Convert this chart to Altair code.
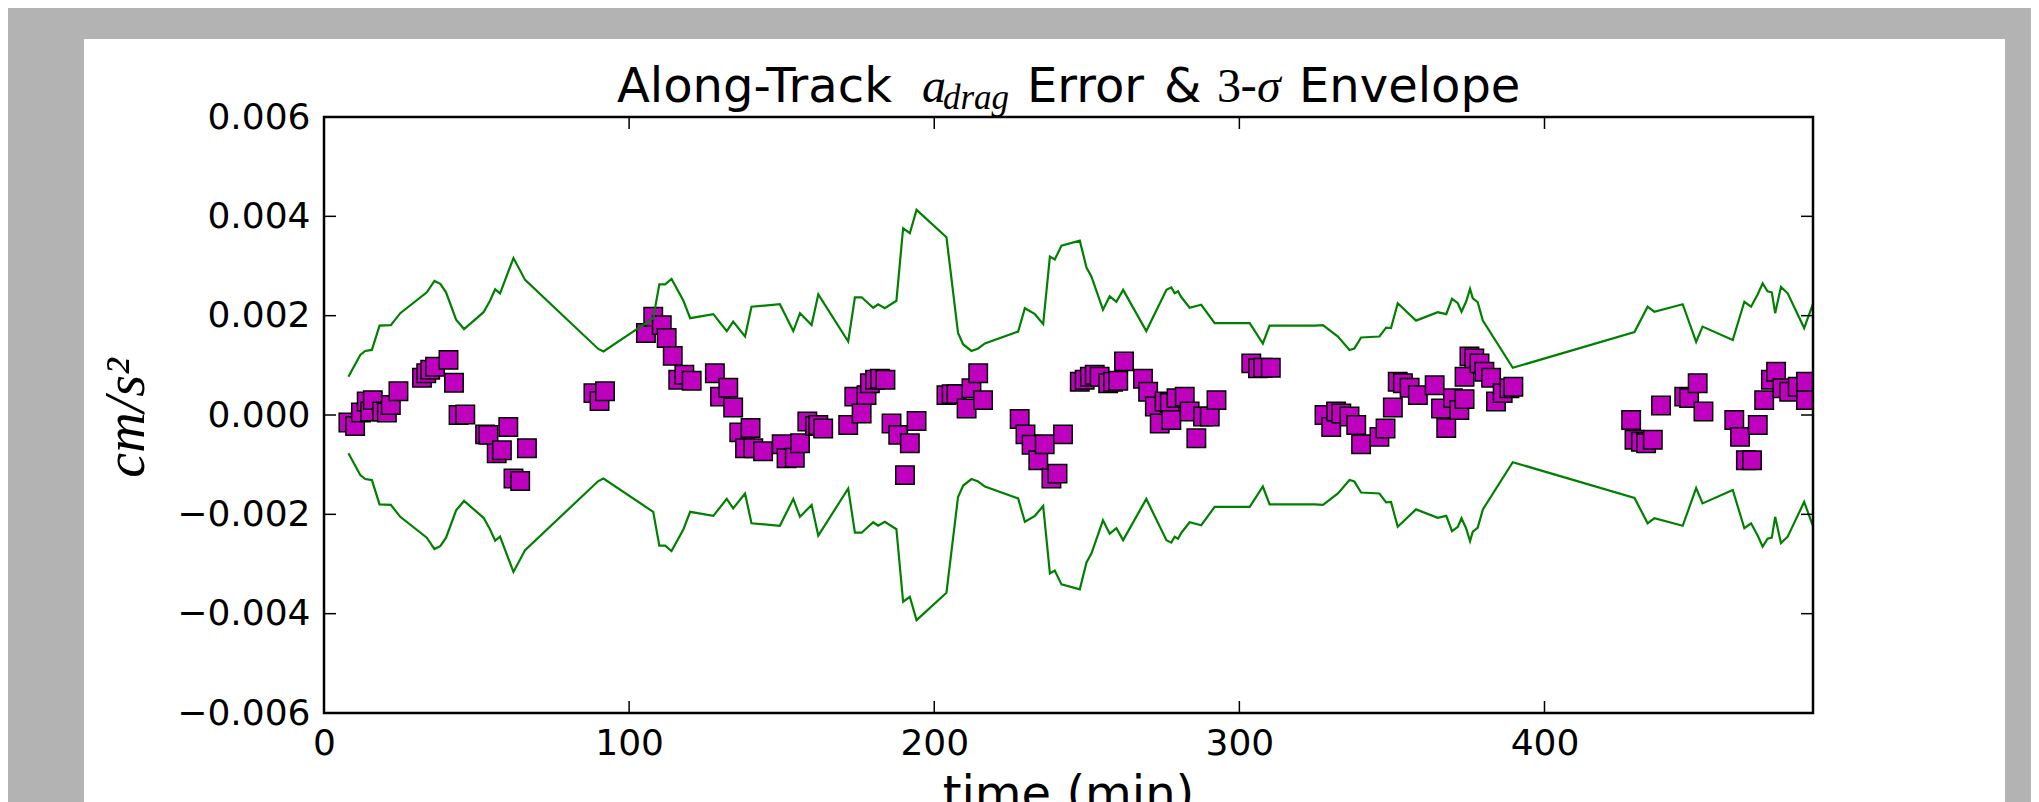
import altair as alt
import pandas as pd

# ---------------- data ----------------
# 3-sigma envelope (upper branch), time in minutes, value in 1e-3 cm/s^2
env_t = [8.0, 11.9, 13.5, 15.7, 18.2, 21.9, 25.0, 33.7, 36.2, 38.1, 40.0, 43.3, 45.9, 52.3, 54.4,
         56.1, 57.7, 62.1, 65.9, 89.9, 91.6, 107.9, 109.9, 111.8, 113.9, 117.8, 120.0, 127.6, 132.0,
         134.1, 138.0, 140.1, 149.4, 153.8, 156.0, 159.8, 162.0, 171.8, 174.0, 176.2, 180.0, 181.6,
         183.8, 187.6, 189.8, 192.0, 194.2, 204.0, 207.8, 209.5, 212.2, 214.4, 216.6, 227.5, 229.7,
         233.0, 235.7, 237.9, 239.5, 241.7, 247.7, 249.9, 251.5, 255.3, 257.5, 259.7, 261.9, 269.5,
         276.1, 277.7, 278.8, 279.9, 281.0, 283.7, 287.5, 291.9, 303.4, 307.7, 309.9, 324.7, 327.4,
         332.3, 336.1, 337.7, 339.9, 345.9, 348.1, 349.7, 351.9, 357.9, 365.0, 367.8, 369.7, 371.6,
         372.8, 374.3, 375.6, 376.5, 378.1, 379.8, 389.6, 429.5, 433.8, 436.0, 445.3, 449.7, 451.8,
         461.7, 465.5, 467.7, 469.9, 471.5, 473.1, 474.5, 475.6, 477.5, 479.7, 485.1, 487.9]
env_upper = [0.77, 1.21, 1.29, 1.31, 1.80, 1.81, 2.05, 2.47, 2.70, 2.64, 2.47, 1.92, 1.73, 2.07, 2.30,
             2.53, 2.45, 3.16, 2.72, 1.33, 1.28, 1.95, 2.63, 2.63, 2.74, 2.30, 1.95, 2.03, 1.69,
             1.88, 1.58, 2.18, 2.23, 1.69, 2.05, 1.81, 2.43, 1.48, 2.37, 2.37, 2.16, 2.23,
             2.15, 2.30, 3.76, 3.66, 4.13, 3.58, 1.65, 1.42, 1.29, 1.34, 1.44, 1.68, 2.15,
             2.03, 1.83, 3.19, 3.13, 3.41, 3.51, 2.97, 2.79, 2.12, 2.39, 2.28, 2.52, 1.69,
             2.52, 2.57, 2.45, 2.49, 2.37, 2.16, 2.22, 1.85, 1.85, 1.44, 1.80, 1.80, 1.81,
             1.58, 1.31, 1.34, 1.56, 1.58, 1.76, 1.75, 2.25, 1.90, 2.07, 2.03, 2.34, 2.25,
             2.08, 2.28, 2.54, 2.35, 2.27, 1.90, 0.95, 1.67, 2.18, 2.08, 2.23, 1.47, 1.78,
             1.51, 2.28, 2.18, 2.43, 2.65, 2.49, 2.47, 2.05, 2.58, 2.45, 1.75, 2.22]

# along-track a_drag error samples, time in minutes, value in 1e-3 cm/s^2
err_t = [8.0, 10.2, 12.1, 14.0, 15.1, 16.0, 19.0, 20.6, 21.9, 24.4,
         32.1, 33.5, 34.8, 36.4, 40.8, 42.6, 44.1, 46.3,
         52.8, 53.9, 56.6, 58.3, 60.4, 62.1, 64.3, 66.5,
         88.3, 90.3, 92.1,
         105.5, 107.9, 110.7, 112.3, 114.3, 116.1, 118.1, 120.5,
         128.1, 129.8, 132.5, 134.1, 136.1, 138.0, 139.8, 140.7, 143.9, 150.0, 151.6, 154.3, 156.0,
         158.4, 160.9, 162.0, 163.6,
         171.8, 173.8, 176.2, 177.8, 178.9, 180.6, 182.2, 184.0,
         186.0, 188.2, 190.4, 192.0, 194.2,
         204.0, 205.7, 207.3, 210.6, 212.2, 214.4, 216.0,
         228.0, 229.9, 231.9, 234.1, 236.2, 238.4, 240.4, 242.2,
         247.7, 249.3, 251.0, 252.6, 254.2, 257.0, 258.6, 260.3, 262.2, 268.4, 270.1, 272.3, 273.9,
         275.5, 277.2, 277.7, 279.4, 282.1, 283.7, 285.9, 288.1, 290.3, 292.5,
         303.9, 306.1, 307.8, 310.3,
         327.9, 330.1, 331.7, 333.4, 336.1, 338.3, 339.9, 345.9, 347.9, 350.3,
         351.9, 353.6, 355.8, 358.5, 364.0, 366.1, 367.8, 370.0, 372.1, 373.8, 373.8, 375.4, 377.0,
         378.7, 380.3, 382.5, 384.1, 386.3, 388.5, 389.8,
         428.4, 429.5, 431.6, 433.3, 435.5, 438.2,
         445.8, 447.4, 450.2, 452.1,
         462.2, 464.1, 466.0, 468.0, 469.9, 472.0, 474.2, 475.9, 478.0, 480.2, 483.0, 485.7, 485.7]
err_v = [-0.15, -0.22, 0.05, 0.27, 0.07, 0.30, 0.07, 0.05, 0.20, 0.48,
         0.75, 0.84, 0.91, 0.97, 1.11, 0.65, 0.00, 0.01,
         -0.39, -0.40, -0.77, -0.71, -0.24, -1.28, -1.33, -0.67,
         0.44, 0.28, 0.48,
         1.65, 1.98, 1.81, 1.55, 1.19, 0.71, 0.81, 0.69,
         0.84, 0.37, 0.55, 0.15, -0.35, -0.67, -0.26, -0.67, -0.73, -0.59, -0.87, -0.86, -0.57,
         -0.13, -0.22, -0.20, -0.27,
         -0.20, 0.37, 0.03, 0.40, 0.64, 0.71, 0.73, 0.71,
         -0.17, -0.40, -1.21, -0.57, -0.12,
         0.40, 0.42, 0.42, 0.13, 0.54, 0.84, 0.30,
         -0.08, -0.39, -0.60, -0.91, -0.59, -1.28, -1.18, -0.39,
         0.67, 0.71, 0.77, 0.81, 0.77, 0.64, 0.67, 0.69, 1.08, 0.73, 0.47, 0.17, -0.17,
         0.27, 0.24, -0.10, 0.34, 0.37, 0.07, -0.47, -0.03, -0.03, 0.30,
         1.04, 0.94, 0.95, 0.95,
         0.00, -0.24, 0.07, 0.03, -0.03, -0.20, -0.59, -0.44, -0.27, 0.15,
         0.67, 0.64, 0.55, 0.40, 0.60, 0.13, -0.26, 0.34, 0.10, 0.32, 0.77, 1.18, 1.14,
         1.04, 0.87, 0.75, 0.27, 0.44, 0.54, 0.57,
         -0.10, -0.50, -0.54, -0.57, -0.50, 0.19,
         0.37, 0.34, 0.64, 0.07,
         -0.10, -0.44, -0.91, -0.91, -0.20, 0.30, 0.71, 0.87, 0.54, 0.47, 0.57, 0.67, 0.30]

x_ticks = [0, 100, 200, 300, 400]
y_ticks = [-0.006, -0.004, -0.002, 0.0, 0.002, 0.004, 0.006]
x_domain = [0, 488]
y_domain = [-0.006, 0.006]
MILLI = 1e-3

assert len(env_t) == len(env_upper)
assert len(err_t) == len(err_v)

# ---------------- tables ----------------
n = len(env_t)
env_df = pd.DataFrame({
    "t": env_t + env_t,
    "v": [u * MILLI for u in env_upper] + [-u * MILLI for u in env_upper],
    "side": ["upper"] * n + ["lower"] * n,
    "order": list(range(n)) * 2,
})
pts_df = pd.DataFrame({"t": err_t, "v": [e * MILLI for e in err_v]})
xt_df = pd.DataFrame({"t": x_ticks})
yt_df = pd.DataFrame({"v": y_ticks})
one = pd.DataFrame({"a": [0]})

# ---------------- layout ----------------
W, H = 1489, 596
TICK = 12
GREEN = "#008000"
MAGENTA = "#bf00bf"

xs = alt.Scale(domain=x_domain, nice=False, zero=False)
ys = alt.Scale(domain=y_domain, nice=False, zero=False)

ax_x = alt.Axis(values=x_ticks, format="d", title=None, grid=False, domain=False,
                ticks=False, tickSize=0, labelFontSize=36, labelFont="DejaVu Sans",
                labelColor="black", labelPadding=13, labelFlush=False,
                labelOverlap=False, zindex=1)
ax_y = alt.Axis(values=y_ticks, format=".3f", title=None, grid=False, domain=False,
                ticks=False, tickSize=0, labelFontSize=36, labelFont="DejaVu Sans",
                labelColor="black", labelPadding=14, labelFlush=False,
                labelOverlap=False, zindex=1)

X = alt.X("t:Q", scale=xs, axis=ax_x)
Y = alt.Y("v:Q", scale=ys, axis=ax_y)

card = alt.Chart(one).mark_rect(fill="white").encode(
    x=alt.value(-240), x2=alt.value(1681), y=alt.value(-78), y2=alt.value(700))

points = alt.Chart(pts_df).mark_square(
    fill=MAGENTA, stroke="black", strokeWidth=1.5, size=340, opacity=1, clip=True
).encode(x=X, y=Y)

lines = alt.Chart(env_df).mark_line(color=GREEN, strokeWidth=2.2, clip=True).encode(
    x=X, y=Y, detail="side:N", order="order:Q")

tick_style = dict(color="black", strokeWidth=1.5)
xt_bottom = alt.Chart(xt_df).mark_rule(**tick_style).encode(
    x=X, y=alt.value(H), y2=alt.value(H - TICK))
xt_top = alt.Chart(xt_df).mark_rule(**tick_style).encode(
    x=X, y=alt.value(0), y2=alt.value(TICK))
yt_left = alt.Chart(yt_df).mark_rule(**tick_style).encode(
    y=Y, x=alt.value(0), x2=alt.value(TICK))
yt_right = alt.Chart(yt_df).mark_rule(**tick_style).encode(
    y=Y, x=alt.value(W - TICK), x2=alt.value(W))

frame = alt.Chart(one).mark_rect(fillOpacity=0, stroke="black", strokeWidth=2.5).encode(
    x=alt.value(0), x2=alt.value(W), y=alt.value(0), y2=alt.value(H))


def txt(s, x, y, size, font="DejaVu Sans", style="normal", angle=0,
        align="left", baseline="alphabetic"):
    return alt.Chart(one).mark_text(
        text=s, font=font, fontSize=size, fontStyle=style, angle=angle,
        align=align, baseline=baseline, color="black"
    ).encode(x=alt.value(x), y=alt.value(y))


TB = -15   # title baseline (relative to plot top)
TS = 48
title_parts = [
    txt("Along-Track", 293, TB, TS),
    txt("a", 598, TB, TS, font="Liberation Serif", style="italic"),
    txt("drag", 619, TB + 7, 35, font="Liberation Serif", style="italic"),
    txt("Error", 703, TB, TS),
    txt("&", 840, TB, TS),
    txt("3", 893, TB, TS, font="Liberation Serif"),
    txt("-", 916, TB, TS),
    txt("σ", 933, TB, TS, font="Liberation Serif", style="italic"),
    txt("Envelope", 975, TB, TS),
]

ylabel = txt("cm/s²", -180, 301, 56, font="Liberation Serif", style="italic",
             angle=270, align="center")
xlabel = txt("time (min)", W / 2, 693, 48, align="center")

chart = alt.layer(
    card, points, lines, xt_bottom, xt_top, yt_left, yt_right, frame,
    *title_parts, ylabel, xlabel
).properties(
    width=W, height=H,
    autosize=alt.AutoSizeParams(type="none"),
    padding={"left": 316, "top": 109, "right": 218, "bottom": 89},
    background="#b3b3b3",
).configure_view(stroke=None)

chart.save("out.html", embed_options={"renderer": "svg", "actions": False})
